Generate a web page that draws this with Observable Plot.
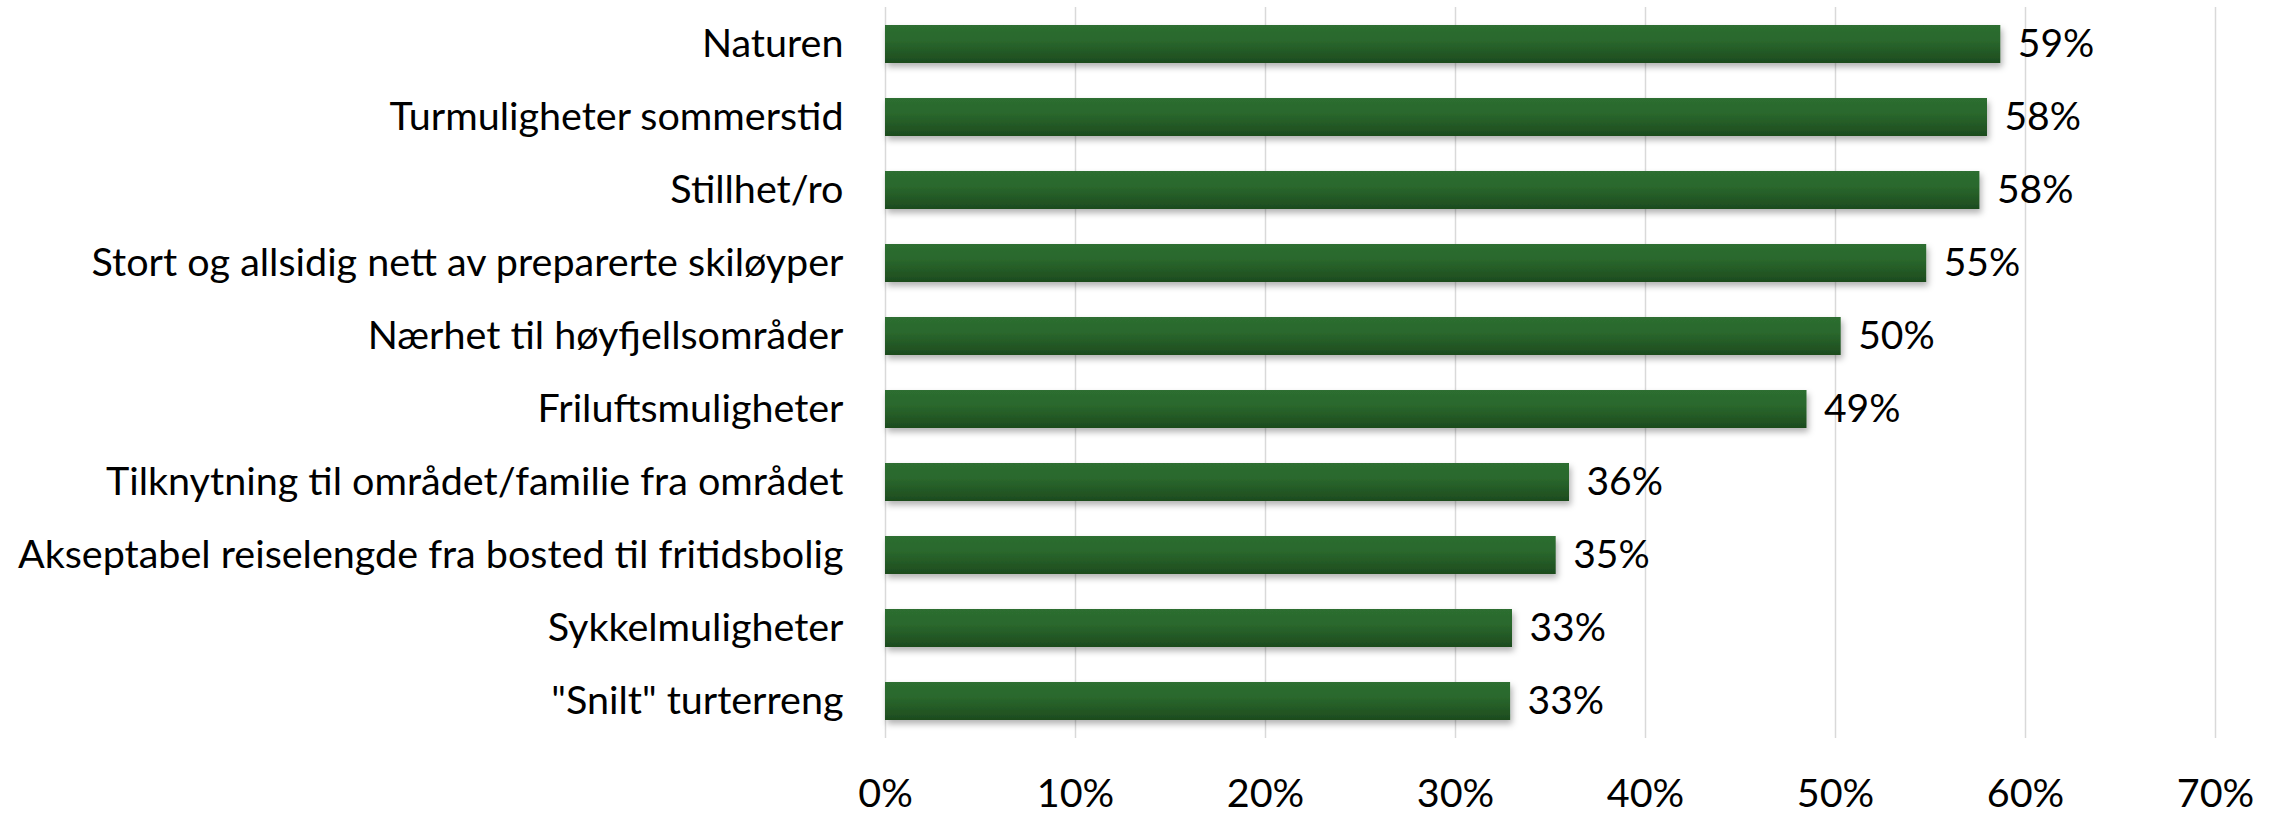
<!DOCTYPE html>
<html>
<head>
<meta charset="utf-8">
<script src="https://cdn.jsdelivr.net/npm/d3@7"></script>
<script src="https://cdn.jsdelivr.net/npm/@observablehq/plot@0.6"></script>
<style>
  html, body { margin: 0; padding: 0; background: #ffffff; }
  #chart svg { display: block; overflow: visible; }
</style>
</head>
<body>
<div id="chart"></div>
<script>
const categories = [
  "Naturen",
  "Turmuligheter sommerstid",
  "Stillhet/ro",
  "Stort og allsidig nett av preparerte skiløyper",
  "Nærhet til høyfjellsområder",
  "Friluftsmuligheter",
  "Tilknytning til området/familie fra området",
  "Akseptabel reiselengde fra bosted til fritidsbolig",
  "Sykkelmuligheter",
  "\"Snilt\" turterreng"
];
const values = [58.7, 58.0, 57.6, 54.8, 50.3, 48.5, 36.0, 35.3, 33.0, 32.9];
const valueLabels = ["59%", "58%", "58%", "55%", "50%", "49%", "36%", "35%", "33%", "33%"];
const xTicks = [0, 10, 20, 30, 40, 50, 60, 70];

const data = categories.map((c, i) => ({category: c, value: values[i], label: valueLabels[i]}));

const plot = Plot.plot({
  width: 2277,
  height: 815,
  marginLeft: 885,
  marginRight: 62,
  marginTop: 7,
  marginBottom: 77,
  style: {fontFamily: "Lato, 'Open Sans', sans-serif", fontSize: "39.5px", color: "#000", background: "#fff"},
  x: {domain: [0, 70], ticks: xTicks, tickFormat: d => d + "%", tickSize: 0, tickPadding: 40, label: null},
  y: {domain: categories, paddingInner: 0.48, paddingOuter: 0.24, tickSize: 0, tickPadding: 42, label: null},
  marks: [
    Plot.ruleX(xTicks, {stroke: "#d9d9d9", strokeWidth: 1.5}),
    Plot.barX(data, {x: "value", y: "category", fill: "url(#barGrad)"}),
    Plot.text(data, {x: "value", y: "category", text: "label", dx: 17, textAnchor: "start", fill: "#000", fontSize: 39})
  ]
});

const svg = d3.select(plot);
const defs = svg.insert("defs", ":first-child");
const grad = defs.append("linearGradient").attr("id", "barGrad").attr("x1", 0).attr("y1", 0).attr("x2", 0).attr("y2", 1);
grad.append("stop").attr("offset", "0%").attr("stop-color", "#2d6e30");
grad.append("stop").attr("offset", "40%").attr("stop-color", "#2a682d");
grad.append("stop").attr("offset", "100%").attr("stop-color", "#1d4b1e");
const filt = defs.append("filter").attr("id", "barShadow").attr("x", "-5%").attr("y", "-30%").attr("width", "110%").attr("height", "180%");
filt.append("feDropShadow").attr("dx", 2).attr("dy", 4).attr("stdDeviation", 3).attr("flood-color", "#000").attr("flood-opacity", 0.3);
svg.selectAll('g[aria-label="bar"]').attr("filter", "url(#barShadow)");

document.getElementById("chart").appendChild(plot);
</script>
</body>
</html>
